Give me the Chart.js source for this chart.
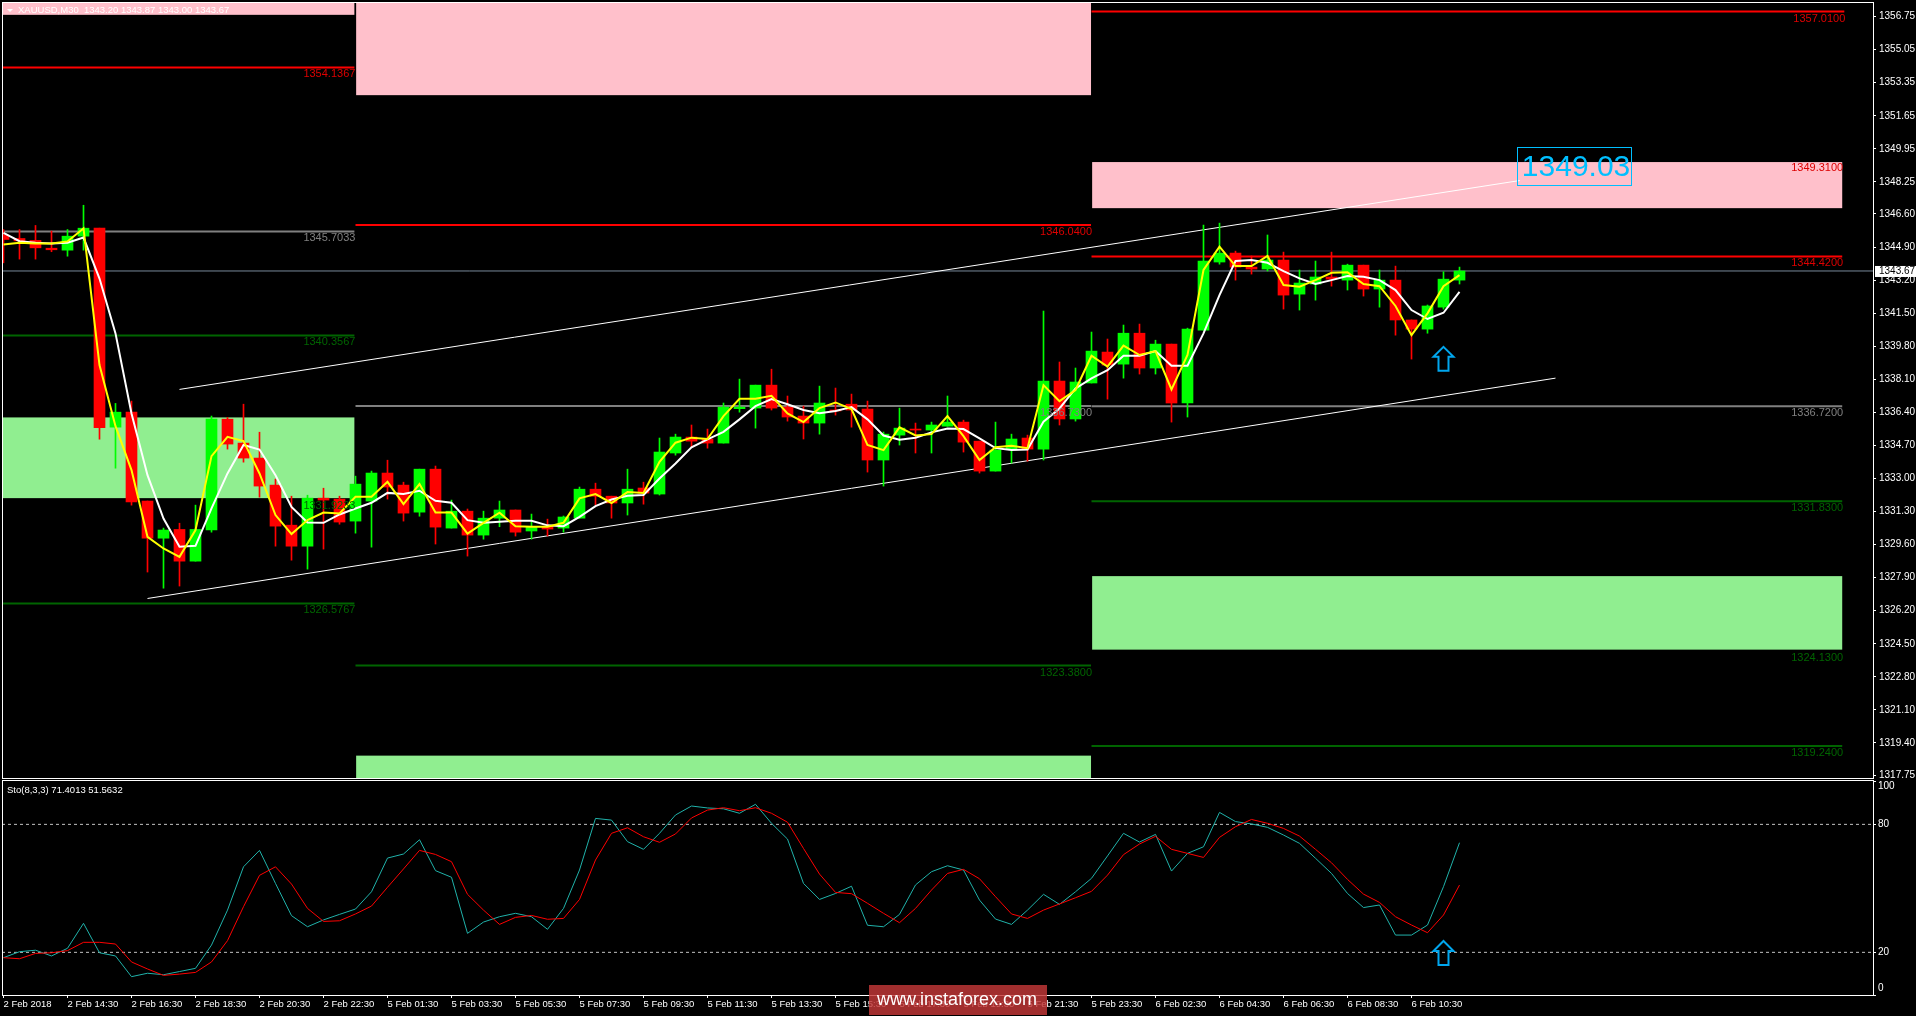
<!DOCTYPE html>
<html>
<head>
<meta charset="utf-8">
<title>XAUUSD,M30</title>
<script src="https://cdn.jsdelivr.net/npm/chart.js@4/dist/chart.umd.min.js"></script>
<style>
  html, body { margin: 0; padding: 0; background: #000; overflow: hidden; }
  #wrap { position: relative; width: 1916px; height: 1016px; }
  #wrap canvas { position: absolute; left: 0; }
</style>
</head>
<body>
<div id="wrap">
  <canvas id="priceChart" width="1916" height="780" style="top:0"></canvas>
  <canvas id="stochChart" width="1916" height="236" style="top:780px"></canvas>
</div>
<script>
// candles, one M30 bar per entry
const opens = [1345.51,1345.34,1345.24,1344.84,1344.74,1345.46,1345.87,1335.64,1336.41,1331.84,
  1329.93,1330.38,1328.75,1330.35,1336.05,1334.82,1334.05,1332.66,1330.60,1329.52,
  1331.99,1331.94,1330.81,1331.84,1333.28,1332.66,1331.27,1333.48,1330.45,1331.32,
  1330.09,1330.96,1331.38,1330.30,1330.55,1330.45,1330.96,1332.45,1332.09,1331.74,
  1332.51,1332.20,1334.31,1335.13,1335.03,1334.82,1336.59,1336.62,1337.80,1336.67,
  1336.21,1335.85,1336.52,1336.82,1336.57,1333.95,1335.23,1335.54,1335.49,1335.69,
  1335.90,1334.92,1333.38,1334.51,1335.08,1334.51,1338.01,1336.06,1337.91,1339.50,
  1338.88,1340.47,1338.68,1339.91,1336.88,1340.63,1344.13,1344.59,1343.87,1343.77,
  1344.23,1342.48,1343.00,1343.36,1343.20,1343.97,1342.74,1343.20,1341.15,1340.68,
  1341.81,1343.20];
const highs = [1345.80,1345.80,1346.01,1345.72,1345.80,1347.05,1345.87,1336.86,1336.98,1331.84,
  1330.45,1330.70,1331.63,1336.21,1336.14,1336.82,1335.38,1332.97,1332.09,1332.14,
  1332.50,1332.09,1333.12,1333.38,1333.94,1332.81,1333.48,1333.64,1331.89,1331.43,
  1331.32,1331.84,1331.38,1331.17,1330.91,1331.07,1332.56,1332.76,1332.09,1333.48,
  1332.81,1335.08,1335.28,1335.75,1335.54,1336.88,1338.11,1337.80,1338.62,1337.24,
  1336.72,1337.75,1337.65,1337.34,1336.98,1335.39,1336.62,1335.85,1335.90,1337.24,
  1336.00,1334.92,1335.90,1335.28,1335.23,1341.61,1338.99,1338.68,1340.53,1340.17,
  1340.89,1340.94,1340.11,1339.91,1340.73,1346.03,1346.13,1344.69,1344.44,1345.52,
  1344.64,1343.72,1344.18,1344.64,1344.02,1343.97,1343.72,1343.92,1341.15,1341.92,
  1343.63,1343.87];
const lows = [1344.09,1344.28,1344.28,1344.66,1344.43,1344.74,1335.02,1333.53,1331.63,1328.19,
  1327.36,1327.47,1328.75,1330.24,1334.51,1333.84,1332.04,1329.52,1328.80,1328.34,
  1329.37,1330.65,1330.19,1329.47,1331.94,1330.81,1331.06,1329.63,1330.45,1329.01,
  1329.88,1330.52,1330.04,1329.88,1330.04,1330.24,1330.96,1331.63,1330.96,1331.12,
  1331.68,1332.15,1334.20,1334.61,1334.56,1334.82,1336.41,1335.59,1336.52,1335.95,
  1335.03,1335.28,1336.26,1335.64,1333.33,1332.61,1334.72,1334.31,1334.31,1335.69,
  1334.36,1333.28,1333.38,1333.79,1333.89,1333.95,1335.75,1335.95,1337.91,1337.08,
  1338.16,1338.37,1338.37,1335.90,1336.16,1340.63,1344.02,1343.20,1343.51,1343.67,
  1341.71,1341.66,1342.17,1342.89,1342.69,1342.38,1341.81,1340.37,1339.14,1340.47,
  1341.71,1343.00];
const closes = [1345.29,1345.22,1344.86,1344.76,1345.46,1345.87,1335.61,1336.41,1331.80,1329.93,
  1330.35,1328.75,1330.38,1336.05,1334.77,1334.05,1332.61,1330.55,1329.52,1331.99,
  1331.89,1330.76,1332.71,1333.28,1332.56,1331.22,1333.48,1330.50,1331.32,1330.09,
  1330.96,1331.38,1330.24,1330.52,1330.40,1331.02,1332.45,1332.09,1331.74,1332.45,
  1332.25,1334.36,1335.13,1334.92,1334.82,1336.67,1336.67,1337.80,1336.62,1336.16,
  1335.85,1336.88,1336.47,1336.52,1333.95,1335.28,1335.59,1335.49,1335.75,1335.90,
  1334.87,1333.38,1334.46,1335.03,1334.51,1338.01,1336.06,1337.96,1339.55,1338.83,
  1340.47,1338.68,1339.91,1336.88,1340.68,1344.18,1344.59,1343.87,1343.77,1344.23,
  1342.43,1343.05,1343.36,1343.25,1343.97,1342.74,1343.20,1341.15,1340.68,1341.87,
  1343.25,1343.67];

// moving averages
const fastMa = [1345.03,1345.12,1345.08,1345.08,1345.19,1345.86,1338.83,1335.69,1333.43,1330.00,
  1329.40,1328.97,1330.35,1334.15,1335.14,1334.92,1333.26,1331.12,1330.14,1330.86,
  1331.25,1331.20,1332.06,1332.06,1332.83,1331.68,1332.71,1331.25,1331.25,1330.17,
  1330.72,1331.24,1330.54,1330.52,1330.52,1330.72,1331.98,1332.20,1331.74,1332.30,
  1332.25,1333.86,1334.84,1335.10,1335.03,1336.21,1337.10,1337.10,1337.25,1336.35,
  1335.90,1336.62,1336.91,1336.57,1334.72,1334.46,1335.63,1335.21,1335.28,1336.21,
  1335.18,1333.95,1334.61,1334.68,1334.56,1337.80,1336.98,1337.55,1339.31,1338.75,
  1339.83,1339.35,1339.55,1337.58,1339.35,1343.72,1344.92,1343.92,1343.92,1344.44,
  1342.95,1342.86,1343.20,1343.58,1343.60,1343.00,1342.89,1341.87,1340.37,1341.49,
  1342.89,1343.46];
const slowMa = [1345.63,1345.20,1345.12,1345.08,1345.12,1345.39,1343.28,1340.46,1336.34,1333.17,
  1330.94,1329.49,1329.54,1331.46,1333.26,1334.72,1334.49,1333.17,1331.54,1330.74,
  1330.72,1331.15,1331.46,1331.75,1332.26,1332.20,1332.37,1331.85,1331.75,1330.86,
  1330.72,1330.78,1330.83,1330.83,1330.59,1330.55,1331.03,1331.58,1331.92,1332.11,
  1332.15,1333.00,1333.77,1334.60,1335.01,1335.40,1336.04,1336.72,1337.08,1336.82,
  1336.52,1336.36,1336.47,1336.67,1336.04,1335.21,1334.99,1335.10,1335.37,1335.57,
  1335.54,1335.06,1334.56,1334.46,1334.49,1335.92,1336.60,1337.63,1338.15,1338.57,
  1339.31,1339.31,1339.55,1338.80,1338.80,1340.46,1342.43,1344.18,1344.23,1344.09,
  1343.66,1343.29,1343.00,1343.20,1343.41,1343.37,1343.20,1342.69,1341.66,1341.20,
  1341.52,1342.60];

// stochastic
const stochMain = [17.5,20.3,21.0,18.3,21.9,33.6,19.8,18.3,8.6,10.2,
  9.5,11.0,12.5,23.4,39.8,60.1,67.8,52.3,37.2,32.0,
  35.2,37.8,40.3,48.4,64.2,66.1,72.8,58.3,55.2,28.9,
  34.2,36.7,38.3,36.7,30.8,40.6,58.6,82.8,82.0,71.9,
  68.3,75.8,84.4,88.6,87.7,87.3,85.2,89.4,80.5,73.1,
  52.3,44.8,47.6,51.0,32.7,32.0,37.8,51.6,57.8,60.6,
  58.6,44.5,35.6,33.1,39.8,47.2,42.5,48.4,54.7,65.2,
  75.8,71.7,75.3,58.1,66.4,69.5,85.6,81.3,80.2,78.6,
  75.0,71.1,64.1,57.0,47.6,41.0,42.2,28.1,28.1,32.8,
  50.8,71.4013];
const stochSignal = [17.5,17.0,19.5,19.8,20.8,24.7,24.7,23.9,15.5,12.2,
  9.2,9.8,10.6,15.5,25.5,41.4,56.1,60.1,52.0,40.6,
  34.5,34.8,38.0,41.7,50.5,59.1,67.8,65.9,62.5,47.2,
  39.8,33.1,36.4,37.3,35.5,35.9,44.8,63.3,75.8,78.4,
  74.2,71.6,75.5,83.0,86.7,87.8,86.4,87.8,85.2,81.0,
  68.7,56.7,48.1,47.5,43.0,38.3,33.9,40.6,49.2,57.0,
  58.9,54.5,46.1,38.0,35.9,39.8,42.7,45.6,48.6,56.2,
  65.8,70.8,74.4,68.3,66.4,64.5,73.9,78.9,82.3,80.5,
  78.1,74.5,68.3,62.0,54.2,47.3,43.4,36.7,32.8,29.2,
  37.5,51.5632];

// axes
const timeLabels = ['2 Feb 2018','2 Feb 14:30','2 Feb 16:30','2 Feb 18:30','2 Feb 20:30','2 Feb 22:30',
  '5 Feb 01:30','5 Feb 03:30','5 Feb 05:30','5 Feb 07:30','5 Feb 09:30','5 Feb 11:30','5 Feb 13:30',
  '5 Feb 15:30','5 Feb 17:30','5 Feb 19:30','5 Feb 21:30','5 Feb 23:30','6 Feb 02:30','6 Feb 04:30',
  '6 Feb 06:30','6 Feb 08:30','6 Feb 10:30'];
const priceTicks = [1356.75,1355.05,1353.35,1351.65,1349.95,1348.25,1346.60,1344.90,1343.20,1341.50,1339.80,
  1338.10,1336.40,1334.70,1333.00,1331.30,1329.60,1327.90,1326.20,1324.50,1322.80,1321.10,1319.40,1317.75];
const stochTicks = [100,80,20,0];

// pivot levels: price, first bar, last bar
const levelPrices = [1354.1367,1345.7033,1340.3567,1331.9233,1326.5767,
  1346.04,1336.73,1323.38,
  1357.01,1349.31,1344.42,1336.72,1331.83,1324.13,1319.24];
const levelKinds = ['red','gray','green','green','green',
  'red','gray','green',
  'red','red','red','gray','green','green','green'];
const levelFrom = [-0.06,-0.06,-0.06,-0.06,-0.06,22,22,22,68,68,68,68,68,68,68];
const levelTo = [21.93,21.93,21.93,21.93,21.93,67.97,67.97,67.97,115.05,114.92,114.92,114.92,114.92,114.92,114.92];
// these sit on a zone edge and the zone hides them
const levelHidden = [1331.9233,1349.31,1324.13];

// supply and demand zones
const zoneTop = [1357.5,1357.5,1349.27,1336.14,1318.75,1327.98];
const zoneBottom = [1356.84,1352.71,1346.90,1331.99,1317.6,1324.2];
const zoneFrom = [-0.06,22.04,68.04,-0.06,22.04,68.04];
const zoneTo = [21.93,67.97,114.92,21.93,67.97,114.92];
const zoneKinds = ['pink','pink','pink','green','green','green'];

// channel lines
const upperLineBars = [11.0,94.77];
const upperLinePrices = [1337.58,1348.32];
const lowerLineBars = [9.0,97.0];
const lowerLinePrices = [1326.83,1338.16];

const lastPrice = 1343.67;
const targetPrice = 1349.03;
const targetBar = 98.16;
const arrowBar = 90;
const arrowPrice = 1339.82;
const arrowStoch = 25.8;

const BAR_MIN = -0.09375;
const BAR_MAX = 116.84375;
const KIND_COLOR = { red: '#ff0000', gray: '#808080', green: '#006400' };
const TEXT_COLOR = { red: '#dd0000', gray: '#808080', green: '#006400' };
const ZONE_COLOR = { pink: '#ffc0cb', green: '#90ee90' };
const AXIS_FONT = { family: '"Liberation Sans", sans-serif', size: 10 };
const TIME_FONT = { family: '"Liberation Sans", sans-serif', size: 9.5 };
const AXIS_CSS = '10px "Liberation Sans", sans-serif';

const bars = opens.map((o, i) => i);
const upColor = '#00ff00';
const downColor = '#ff0000';
const candleColors = closes.map((c, i) => (c >= opens[i] ? upColor : downColor));

function seriesPoints(values) {
  return values.map((v, i) => ({ x: i, y: v }));
}

function segment(x1, x2, y1, y2, color, width, order) {
  return {
    type: 'line',
    data: [{ x: x1, y: y1 }, { x: x2, y: y2 }],
    borderColor: color,
    borderWidth: width,
    pointRadius: 0,
    tension: 0,
    order: order
  };
}

function fixAxisWidth(scale) {
  scale.width = 43;
  scale.paddingTop = 0;
  scale.paddingBottom = 0;
}

function drawFrame(ctx, area) {
  ctx.strokeStyle = '#ffffff';
  ctx.lineWidth = 1;
  ctx.strokeRect(area.left + 0.5, area.top + 0.5, area.right - area.left, area.bottom - area.top);
}

// outlined up arrow hanging under its tip
function drawArrow(ctx, x, y) {
  ctx.beginPath();
  ctx.moveTo(x, y + 1);
  ctx.lineTo(x + 10, y + 11);
  ctx.lineTo(x + 5, y + 11);
  ctx.lineTo(x + 5, y + 25);
  ctx.lineTo(x - 5, y + 25);
  ctx.lineTo(x - 5, y + 11);
  ctx.lineTo(x - 10, y + 11);
  ctx.closePath();
  ctx.strokeStyle = '#00a6ee';
  ctx.lineWidth = 2;
  ctx.stroke();
}

const priceOverlay = {
  id: 'priceOverlay',
  beforeDatasetsDraw(chart) {
    const { ctx, scales: { x, y } } = chart;
    ctx.save();
    zoneTop.forEach((top, i) => {
      const px1 = x.getPixelForValue(zoneFrom[i]);
      const px2 = x.getPixelForValue(zoneTo[i]);
      const py1 = y.getPixelForValue(top);
      const py2 = y.getPixelForValue(zoneBottom[i]);
      ctx.fillStyle = ZONE_COLOR[zoneKinds[i]];
      ctx.fillRect(px1, py1, px2 - px1, py2 - py1);
    });
    ctx.restore();
  },
  afterDraw(chart) {
    const { ctx, chartArea, scales: { x, y } } = chart;
    ctx.save();

    // level captions
    ctx.font = '11px "Liberation Sans", sans-serif';
    ctx.textAlign = 'right';
    ctx.textBaseline = 'middle';
    levelPrices.forEach((p, i) => {
      ctx.fillStyle = TEXT_COLOR[levelKinds[i]];
      ctx.fillText(p.toFixed(4), x.getPixelForValue(levelTo[i]) + 1, y.getPixelForValue(p) + 7);
    });

    // projected target tag
    const tagX = x.getPixelForValue(targetBar);
    const tagY = y.getPixelForValue(targetPrice);
    ctx.font = '30px "Liberation Sans", sans-serif';
    ctx.textAlign = 'center';
    ctx.fillStyle = '#00bfff';
    ctx.fillText(targetPrice.toFixed(2), tagX + 2, tagY + 1);
    ctx.strokeStyle = '#00bfff';
    ctx.lineWidth = 1;
    ctx.strokeRect(Math.round(tagX - 57) + 0.5, Math.round(tagY - 20) + 0.5, 114, 38);

    drawArrow(ctx, x.getPixelForValue(arrowBar), y.getPixelForValue(arrowPrice));

    drawFrame(ctx, chartArea);

    // last price box on the axis
    const lastY = y.getPixelForValue(lastPrice);
    ctx.fillStyle = '#ffffff';
    ctx.fillRect(chartArea.right + 2, lastY - 5, 41, 11);
    ctx.fillStyle = '#000000';
    ctx.font = AXIS_CSS;
    ctx.textAlign = 'left';
    ctx.fillText(lastPrice.toFixed(2), chartArea.right + 6, lastY);

    // symbol header
    ctx.fillStyle = '#ffffff';
    ctx.beginPath();
    ctx.moveTo(7, 9);
    ctx.lineTo(13, 9);
    ctx.lineTo(10, 12);
    ctx.closePath();
    ctx.fill();
    ctx.font = '9.5px "Liberation Sans", sans-serif';
    ctx.fillText('XAUUSD,M30  1343.20 1343.87 1343.00 1343.67', 18, 10);
    ctx.restore();
  }
};

const stochOverlay = {
  id: 'stochOverlay',
  afterDraw(chart) {
    const { ctx, chartArea, scales: { x, y } } = chart;
    ctx.save();
    drawArrow(ctx, x.getPixelForValue(arrowBar), y.getPixelForValue(arrowStoch));
    drawFrame(ctx, chartArea);

    ctx.font = AXIS_CSS;
    ctx.fillStyle = '#ffffff';
    ctx.textAlign = 'left';
    ctx.textBaseline = 'middle';
    stochTicks.forEach(t => {
      // the 100 and 0 captions are pulled inside the window
      let ty = y.getPixelForValue(t);
      if (t === 100) ty += 5;
      if (t === 0) ty -= 7;
      ctx.fillText(String(t), chartArea.right + 5, ty);
    });
    ctx.font = '9.5px "Liberation Sans", sans-serif';
    ctx.fillText('Sto(8,3,3) 71.4013 51.5632', 7, 10);

    // watermark
    ctx.fillStyle = 'rgba(196,56,56,0.82)';
    ctx.fillRect(869, 205, 178, 30);
    ctx.fillStyle = '#ffffff';
    ctx.font = '18px "Liberation Sans", sans-serif';
    ctx.textAlign = 'center';
    ctx.fillText('www.instaforex.com', 957, 220);
    ctx.restore();
  }
};

// price window
const priceDatasets = [
  {
    type: 'bar',
    data: bars.map(i => ({ x: i, y: [lows[i], highs[i]] })),
    backgroundColor: candleColors,
    barThickness: 1,
    grouped: false,
    order: 6
  },
  {
    type: 'bar',
    data: bars.map(i => ({ x: i, y: [opens[i], closes[i]] })),
    backgroundColor: candleColors,
    barThickness: 11,
    minBarLength: 1,
    grouped: false,
    order: 5
  },
  { type: 'line', data: seriesPoints(slowMa), borderColor: '#ffffff', borderWidth: 2, pointRadius: 0, tension: 0, order: 2 },
  { type: 'line', data: seriesPoints(fastMa), borderColor: '#ffff00', borderWidth: 2, pointRadius: 0, tension: 0, order: 1 },
  segment(upperLineBars[0], upperLineBars[1], upperLinePrices[0], upperLinePrices[1], '#ffffff', 1, 7),
  segment(lowerLineBars[0], lowerLineBars[1], lowerLinePrices[0], lowerLinePrices[1], '#ffffff', 1, 7),
  segment(BAR_MIN, BAR_MAX, lastPrice, lastPrice, '#778899', 1, 8)
];
levelPrices.forEach((p, i) => {
  if (levelHidden.includes(p)) return;
  priceDatasets.push(segment(levelFrom[i], levelTo[i], p, p, KIND_COLOR[levelKinds[i]], 2, 9));
});

new Chart(document.getElementById('priceChart'), {
  type: 'bar',
  data: { datasets: priceDatasets },
  plugins: [priceOverlay],
  options: {
    responsive: false,
    animation: false,
    events: [],
    layout: { padding: { left: 2, top: 2, right: 0, bottom: 2 } },
    plugins: { legend: { display: false }, tooltip: { enabled: false } },
    scales: {
      x: { type: 'linear', offset: false, min: BAR_MIN, max: BAR_MAX, display: false },
      y: {
        position: 'right',
        min: 1317.6,
        max: 1357.5,
        afterBuildTicks: scale => { scale.ticks = priceTicks.map(v => ({ value: v })); },
        afterFit: fixAxisWidth,
        border: { color: '#ffffff' },
        grid: { drawOnChartArea: false, tickLength: 3, tickColor: '#ffffff' },
        ticks: {
          color: '#ffffff',
          font: AXIS_FONT,
          padding: 3,
          autoSkip: false,
          callback: v => v.toFixed(2)
        }
      }
    }
  }
});

// stochastic window
new Chart(document.getElementById('stochChart'), {
  type: 'line',
  data: {
    datasets: [
      { data: seriesPoints(stochMain), borderColor: '#20b2aa', borderWidth: 1, pointRadius: 0, tension: 0, order: 2 },
      { data: seriesPoints(stochSignal), borderColor: '#ff0000', borderWidth: 1, pointRadius: 0, tension: 0, order: 1 },
      Object.assign(segment(BAR_MIN, BAR_MAX, 80, 80, '#c0c0c0', 1, 3), { borderDash: [3, 3] }),
      Object.assign(segment(BAR_MIN, BAR_MAX, 20, 20, '#c0c0c0', 1, 3), { borderDash: [3, 3] })
    ]
  },
  plugins: [stochOverlay],
  options: {
    responsive: false,
    animation: false,
    events: [],
    layout: { padding: { left: 2, top: 0, right: 0, bottom: 0 } },
    plugins: { legend: { display: false }, tooltip: { enabled: false } },
    scales: {
      x: {
        type: 'linear',
        min: BAR_MIN,
        max: BAR_MAX,
        afterBuildTicks: scale => { scale.ticks = timeLabels.map((t, i) => ({ value: i * 4 })); },
        afterFit: scale => {
          scale.height = 21;
          scale.paddingLeft = 0;
          scale.paddingRight = 0;
        },
        border: { color: '#ffffff' },
        grid: { drawOnChartArea: false, tickLength: 3, tickColor: '#ffffff' },
        ticks: {
          color: '#ffffff',
          font: TIME_FONT,
          align: 'start',
          padding: 1,
          autoSkip: false,
          maxRotation: 0,
          callback: v => timeLabels[Math.round(v / 4)]
        }
      },
      y: {
        position: 'right',
        min: 0,
        max: 100.8,
        afterBuildTicks: scale => { scale.ticks = stochTicks.map(v => ({ value: v })); },
        afterFit: fixAxisWidth,
        border: { color: '#ffffff' },
        grid: { drawOnChartArea: false, tickLength: 3, tickColor: '#ffffff' },
        ticks: { display: false }
      }
    }
  }
});
</script>
</body>
</html>
